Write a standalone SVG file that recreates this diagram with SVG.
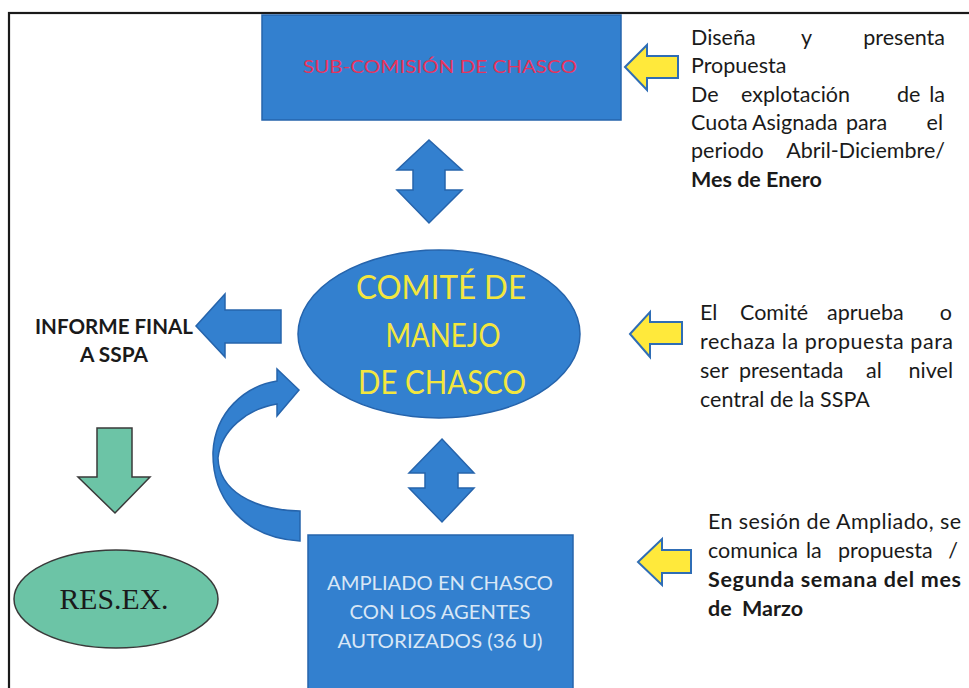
<svg xmlns="http://www.w3.org/2000/svg" width="969" height="688" viewBox="0 0 969 688">
<style>
.blue{fill:#3380cf;stroke:#2664ac;stroke-width:1.5}
.yel{fill:#ffe93b;stroke:#2f6db5;stroke-width:2;stroke-linejoin:miter}
.grn{fill:#6cc4a6;stroke:#3a3a3a;stroke-width:1.5}
.t{font-family:Lato,"Liberation Sans",sans-serif;font-size:21.5px;fill:#1a1a1a}
.b{font-weight:bold}
.cap{font-family:Lato,"Liberation Sans",sans-serif;font-size:32px;fill:#f3e63e;text-anchor:middle}
.end{text-anchor:end}
</style>
<rect x="0" y="0" width="969" height="688" fill="#ffffff"/>
<rect x="9" y="13" width="980" height="700" fill="none" stroke="#1a1a1a" stroke-width="2.2"/>

<g id="connectors">
  <path class="blue" d="M429,140 L462,170 L445,170 L445,190 L462,190 L429,223 L397,190 L413,190 L413,170 L397,170 Z"/>
  <path class="blue" d="M442,439 L474,473 L458,473 L458,488 L474,488 L442,522 L409,488 L425,488 L425,473 L409,473 Z"/>
  <path class="blue" d="M196,326 L225,294 L225,310 L281,310 L281,343 L225,343 L225,357 Z"/>
  <path class="blue" d="M300,541 C245,538 212,500 213,452 C215,412 245,386 277,381 L277,369 L299,390 L277,416 L277,404 C247,409 221,430 218,458 C219,490 252,510 300,511 Z"/>
  <path class="grn" d="M97,428 L132,428 L132,477 L150,477 L115,513 L78,477 L97,477 Z"/>
  <path class="yel" d="M625,67 L647,45 L647,56 L678,56 L678,78 L647,78 L647,90 Z"/>
  <path class="yel" d="M630,334 L650,312 L650,322 L682,322 L682,344 L650,344 L650,357 Z"/>
  <path class="yel" d="M638,562 L662,539 L662,550 L691,550 L691,573 L662,573 L662,585 Z"/>
</g>

<g id="subcomision">
  <rect class="blue" x="262" y="15" width="359" height="105"/>
  <text x="440" y="73" text-anchor="middle" textLength="274" lengthAdjust="spacingAndGlyphs" style="font-family:Lato,'Liberation Sans',sans-serif;font-size:17px;fill:#e8335c">SUB-COMISIÓN DE CHASCO</text>
</g>

<g id="comite">
  <ellipse class="blue" cx="439" cy="334" rx="141" ry="84"/>
  <text class="cap" x="441" y="299" textLength="170" lengthAdjust="spacingAndGlyphs">COMITÉ DE</text>
  <text class="cap" x="443" y="347" textLength="115" lengthAdjust="spacingAndGlyphs">MANEJO</text>
  <text class="cap" x="442" y="394" textLength="168" lengthAdjust="spacingAndGlyphs">DE CHASCO</text>
</g>

<g id="ampliado">
  <rect class="blue" x="308" y="535" width="265" height="160"/>
  <g style="font-family:Lato,'Liberation Sans',sans-serif;font-size:19px;fill:#d9e7f6;text-anchor:middle">
    <text x="440" y="590" textLength="226" lengthAdjust="spacingAndGlyphs">AMPLIADO EN CHASCO</text>
    <text x="440" y="619" textLength="181" lengthAdjust="spacingAndGlyphs">CON LOS AGENTES</text>
    <text x="440" y="648" textLength="205" lengthAdjust="spacingAndGlyphs">AUTORIZADOS (36 U)</text>
  </g>
</g>

<g id="informe">
  <text class="t b" x="114" y="334" text-anchor="middle" textLength="158" lengthAdjust="spacingAndGlyphs" style="font-size:20px">INFORME FINAL</text>
  <text class="t b" x="114" y="362" text-anchor="middle" textLength="68" lengthAdjust="spacingAndGlyphs" style="font-size:20px">A SSPA</text>
</g>

<g id="resex">
  <ellipse class="grn" cx="116" cy="599" rx="102" ry="49"/>
  <text x="114" y="609" text-anchor="middle" textLength="109" lengthAdjust="spacingAndGlyphs" style="font-family:'Liberation Serif',serif;font-size:29px;fill:#1a1a1a">RES.EX.</text>
</g>

<g id="texto1" class="t">
  <text x="691" y="45">Diseña</text>
  <text x="801" y="45">y</text>
  <text x="945" y="45" class="end">presenta</text>
  <text x="691" y="73">Propuesta</text>
  <text x="691" y="102">De</text>
  <text x="741" y="102">explotación</text>
  <text x="897" y="102">de</text>
  <text x="945" y="102" class="end">la</text>
  <text x="691" y="130">Cuota</text>
  <text x="752" y="130">Asignada</text>
  <text x="846" y="130">para</text>
  <text x="943" y="130" class="end">el</text>
  <text x="691" y="158">periodo</text>
  <text x="945" y="158" class="end">Abril-Diciembre/</text>
  <text x="691" y="187" class="b">Mes de Enero</text>
</g>

<g id="texto2" class="t">
  <text x="700" y="320">El</text>
  <text x="740" y="320">Comité</text>
  <text x="827" y="320">aprueba</text>
  <text x="952" y="320" class="end">o</text>
  <text x="700" y="349" textLength="253" lengthAdjust="spacing">rechaza la propuesta para</text>
  <text x="700" y="378">ser</text>
  <text x="739" y="378">presentada</text>
  <text x="866" y="378">al</text>
  <text x="953" y="378" class="end">nivel</text>
  <text x="700" y="407">central de la SSPA</text>
</g>

<g id="texto3" class="t">
  <text x="708" y="529" textLength="253" lengthAdjust="spacing">En sesión de Ampliado, se</text>
  <text x="708" y="558">comunica</text>
  <text x="806" y="558">la</text>
  <text x="838" y="558">propuesta</text>
  <text x="958" y="558" class="end">/</text>
  <text x="708" y="587" class="b" textLength="253" lengthAdjust="spacing">Segunda semana del mes</text>
  <text x="708" y="616" class="b">de</text>
  <text x="742" y="616" class="b">Marzo</text>
</g>
</svg>
